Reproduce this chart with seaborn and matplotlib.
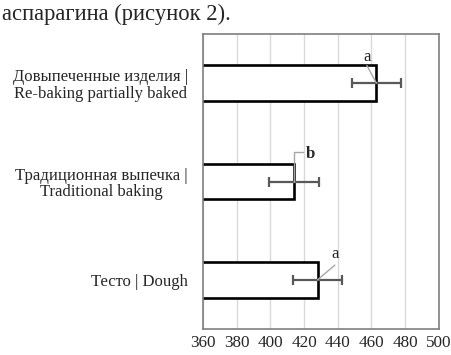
import matplotlib
matplotlib.use("Agg")
import matplotlib.pyplot as plt
import seaborn as sns
import pandas as pd

categories = ["Довыпеченные изделия |\nRe-baking partially baked",
              "Традиционная выпечка |\nTraditional baking",
              "Тесто | Dough"]
values = [463, 414, 428]
errors = [14.5, 14.7, 14.6]
letters = ["a", "b", "a"]
xticks = [360, 380, 400, 420, 440, 460, 480, 500]
caption = "аспарагина (рисунок 2)."

sns.set_style("white")
plt.rcParams["font.family"] = ["Liberation Serif", "DejaVu Serif"]

df = pd.DataFrame({"cat": categories, "val": values})

fig = plt.figure(figsize=(4.51, 3.55), dpi=100)
ax = fig.add_axes([0.450, 0.0732, 0.523, 0.831])

sns.barplot(data=df, x="val", y="cat", orient="h", ax=ax,
            color="white", edgecolor="black", linewidth=1.9, width=0.365,
            errorbar=None)
ax.errorbar(values, range(len(values)), xerr=errors, fmt="none",
            ecolor="#595959", elinewidth=1.6, capsize=3.3, capthick=1.6, zorder=5)

ax.set_xlim(360, 500)
ax.set_xticks(xticks)
ax.set_xticklabels([str(t) for t in xticks], fontsize=12.3)
ax.set_ylim(2.5, -0.5)
ax.set_xlabel("")
ax.set_ylabel("")
for lab in ax.get_yticklabels():
    lab.set_multialignment("center")
    lab.set_fontsize(12)
    lab.set_linespacing(1.05)
ax.tick_params(axis="y", length=0, pad=11)
ax.tick_params(axis="x", length=0, pad=4)
ax.xaxis.grid(True, color="#d9d9d9", linewidth=1)
ax.set_axisbelow(True)
for s in ax.spines.values():
    s.set_color("#7f7f7f")
    s.set_linewidth(1.2)

# significance letters with leader lines
ax.plot([values[0], 457.3], [0, -0.18], color="#a6a6a6", lw=1, zorder=6)
ax.text(457.3, -0.27, letters[0], ha="center", va="center", fontsize=12)
ax.plot([values[1], values[1], 419.5], [1, 1 - 0.30, 1 - 0.30], color="#a6a6a6", lw=1, zorder=6)
ax.text(421, 1 - 0.28, letters[1], ha="left", va="center", fontsize=12, fontweight="bold")
ax.plot([values[2], 438.3], [2, 2 - 0.15], color="#a6a6a6", lw=1, zorder=6)
ax.text(438.6, 2 - 0.26, letters[2], ha="center", va="center", fontsize=12)

fig.text(0.004, 0.945, caption, fontsize=16.3, ha="left", va="baseline")

fig.savefig("out.png", dpi=100)
